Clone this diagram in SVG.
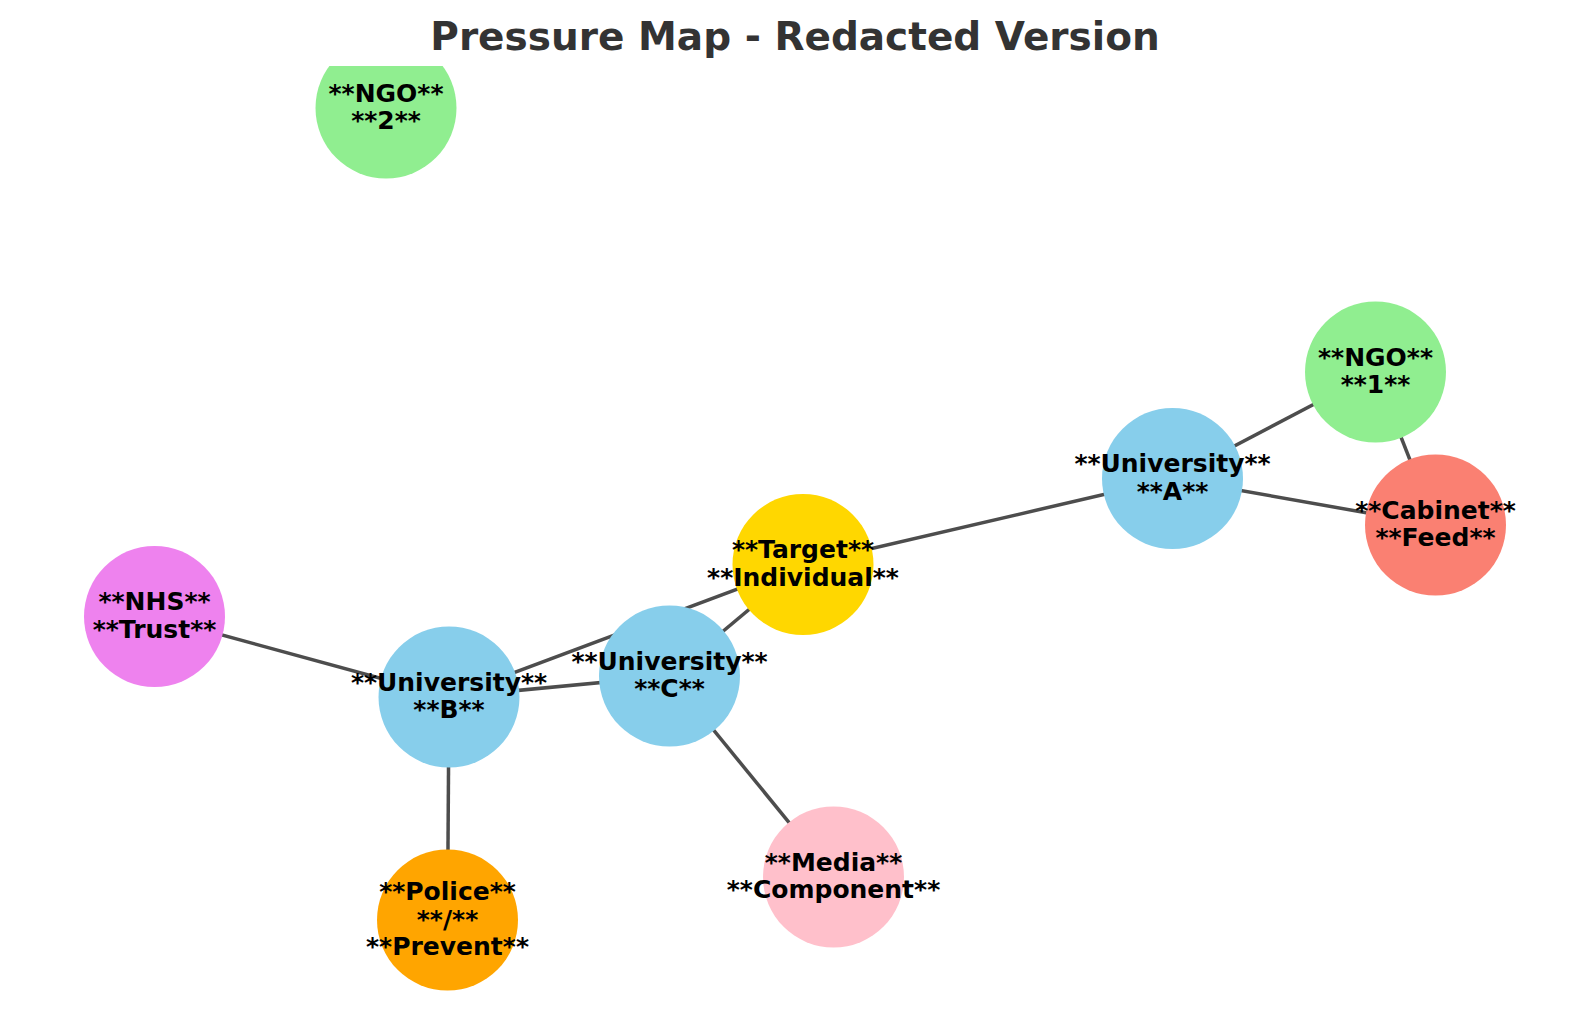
<svg xmlns="http://www.w3.org/2000/svg" width="1589" height="1010" viewBox="0 0 1589 1010">
<style>
.bg{fill:#ffffff}
.title{font-family:"DejaVu Sans",sans-serif;font-weight:bold;font-size:39px;fill:#333333;text-anchor:middle}
.lbl{font-family:"DejaVu Sans",sans-serif;font-weight:bold;font-size:25px;fill:#000000;text-anchor:middle}
.edge{stroke:#4d4d4d;stroke-width:3.5;fill:none;stroke-linecap:butt}
.univ{fill:#87CEEB}
.ngo{fill:#90EE90}
.cab{fill:#FA8072}
.tgt{fill:#FFD700}
.nhs{fill:#EE82EE}
.pol{fill:#FFA500}
.med{fill:#FFC0CB}
</style>
<defs>
<clipPath id="axes"><rect x="0" y="66" width="1589" height="944"/></clipPath>
</defs>
<rect class="bg" x="0" y="0" width="1589" height="1010"/>
<text class="title" x="795" y="50">Pressure Map - Redacted Version</text>
<g id="connectors">
<line class="edge" x1="1172.5" y1="478.5" x2="1375.5" y2="372"/>
<line class="edge" x1="1172.5" y1="478.5" x2="1435.5" y2="525"/>
<line class="edge" x1="1375.5" y1="372" x2="1435.5" y2="525"/>
<line class="edge" x1="1172.5" y1="478.5" x2="803" y2="564.5"/>
<line class="edge" x1="803" y1="564.5" x2="449" y2="697"/>
<line class="edge" x1="803" y1="564.5" x2="669.5" y2="676"/>
<line class="edge" x1="449" y1="697" x2="669.5" y2="676"/>
<line class="edge" x1="449" y1="697" x2="154.5" y2="616.5"/>
<line class="edge" x1="449" y1="697" x2="447.5" y2="920"/>
<line class="edge" x1="669.5" y1="676" x2="833.5" y2="877"/>
</g>
<g id="node-ngo2"><circle class="ngo" cx="386" cy="108" r="70.5" clip-path="url(#axes)"/><text class="lbl" x="386" y="101.5">**NGO**</text><text class="lbl" x="386" y="129">**2**</text></g>
<g id="node-ngo1"><circle class="ngo" cx="1375.5" cy="372" r="70.5"/><text class="lbl" x="1375.5" y="365.5">**NGO**</text><text class="lbl" x="1375.5" y="393">**1**</text></g>
<g id="node-univA"><circle class="univ" cx="1172.5" cy="478.5" r="70.5"/><text class="lbl" x="1172.5" y="472">**University**</text><text class="lbl" x="1172.5" y="499.5">**A**</text></g>
<g id="node-cabinet"><circle class="cab" cx="1435.5" cy="525" r="70.5"/><text class="lbl" x="1435.5" y="518.5">**Cabinet**</text><text class="lbl" x="1435.5" y="546">**Feed**</text></g>
<g id="node-target"><circle class="tgt" cx="803" cy="564.5" r="70.5"/><text class="lbl" x="803" y="558">**Target**</text><text class="lbl" x="803" y="585.5">**Individual**</text></g>
<g id="node-nhs"><circle class="nhs" cx="154.5" cy="616.5" r="70.5"/><text class="lbl" x="154.5" y="610">**NHS**</text><text class="lbl" x="154.5" y="637.5">**Trust**</text></g>
<g id="node-univB"><circle class="univ" cx="449" cy="697" r="70.5"/><text class="lbl" x="449" y="690.5">**University**</text><text class="lbl" x="449" y="718">**B**</text></g>
<g id="node-univC"><circle class="univ" cx="669.5" cy="676" r="70.5"/><text class="lbl" x="669.5" y="669.5">**University**</text><text class="lbl" x="669.5" y="697">**C**</text></g>
<g id="node-police"><circle class="pol" cx="447.5" cy="920" r="70.5"/><text class="lbl" x="447.5" y="900">**Police**</text><text class="lbl" x="447.5" y="927.5">**/**</text><text class="lbl" x="447.5" y="955">**Prevent**</text></g>
<g id="node-media"><circle class="med" cx="833.5" cy="877" r="70.5"/><text class="lbl" x="833.5" y="870.5">**Media**</text><text class="lbl" x="833.5" y="898">**Component**</text></g>
</svg>
